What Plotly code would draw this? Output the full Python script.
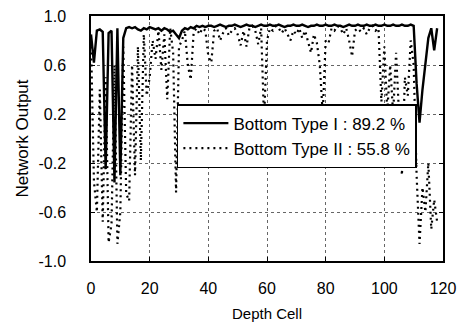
import plotly.graph_objects as go

depth_cell = list(range(0, 119))

type1_output = [
    0.85, 0.62, 0.88, 0.89, 0.87, -0.25, 0.86, 0.88, -0.36, 0.90,
    -0.30, 0.82, 0.90, 0.91, 0.90, 0.91, 0.89, 0.88, 0.90, 0.89,
    0.91, 0.90, 0.89, 0.90, 0.88, 0.90, 0.89, 0.87, 0.88, 0.85,
    0.82, 0.88, 0.90, 0.89, 0.91, 0.90, 0.92, 0.91, 0.92, 0.91,
    0.92, 0.92, 0.91, 0.92, 0.93, 0.92, 0.91, 0.92, 0.92, 0.93,
    0.92, 0.91, 0.92, 0.93, 0.92, 0.92, 0.91, 0.92, 0.93, 0.92,
    0.92, 0.93, 0.92, 0.92, 0.93, 0.92, 0.91, 0.92, 0.92, 0.93,
    0.92, 0.92, 0.93, 0.92, 0.91, 0.92, 0.92, 0.93, 0.92, 0.92,
    0.93, 0.92, 0.92, 0.93, 0.92, 0.92, 0.91, 0.92, 0.93, 0.92,
    0.92, 0.93, 0.92, 0.92, 0.93, 0.92, 0.92, 0.93, 0.92, 0.92,
    0.93, 0.92, 0.92, 0.93, 0.92, 0.92, 0.93, 0.92, 0.92, 0.93,
    0.92, 0.45, 0.13, 0.40, 0.62, 0.82, 0.90, 0.72, 0.90,
]

type2_output = [
    0.80, -0.35, -0.60, 0.40, -0.68, 0.50, -0.85, -0.70, 0.60, -0.86,
    -0.60, 0.75, -0.45, -0.51, 0.60, -0.30, 0.75, -0.18, 0.85, 0.35,
    0.50, 0.80, 0.65, 0.88, 0.56, 0.85, 0.32, 0.90, 0.70, -0.44,
    0.75, 0.80, 0.88, 0.60, 0.48, 0.87, 0.90, 0.85, 0.90, 0.88,
    0.67, 0.62, 0.88, 0.90, 0.80, 0.86, 0.90, 0.84, 0.88, 0.90,
    0.85, 0.76, 0.88, 0.75, 0.90, 0.92, 0.88, 0.77, 0.90, 0.15,
    0.80, 0.90, 0.88, 0.92, 0.90, 0.86, 0.90, 0.85, 0.80, 0.88,
    0.85, 0.90, 0.82, 0.88, 0.80, 0.70, 0.85, 0.78, 0.60, 0.20,
    0.80, 0.78, 0.90, 0.88, 0.92, 0.90, 0.85, 0.90, 0.80, 0.67,
    0.88, 0.90, 0.87, 0.90, 0.85, 0.90, 0.92, 0.88, 0.90, 0.30,
    0.75, 0.22, 0.60, 0.20, 0.70, 0.25, -0.30, 0.50, 0.35, 0.80,
    0.60, -0.30, -0.86, -0.40, -0.60, -0.20, -0.74, -0.50, -0.68,
]

series_names = ["Bottom Type I : 89.2 %", "Bottom Type II : 55.8 %"]

x_ticks = [0, 20, 40, 60, 80, 100, 120]
x_tick_labels = ["0", "20", "40", "60", "80", "100", "120"]
y_ticks = [-1.0, -0.6, -0.2, 0.2, 0.6, 1.0]
y_tick_labels = ["-1.0", "-0.6", "-0.2", "0.2", "0.6", "1.0"]

FONT = "Liberation Sans, Arial, sans-serif"

fig = go.Figure()
fig.add_trace(go.Scatter(
    x=depth_cell, y=type1_output, mode="lines", name=series_names[0],
    line=dict(color="black", width=2.4),
))
fig.add_trace(go.Scatter(
    x=depth_cell, y=type2_output, mode="lines", name=series_names[1],
    line=dict(color="black", width=2.2, dash="2px,4px"),
))

axis_common = dict(
    showline=True, linecolor="black", linewidth=1.5, mirror="ticks",
    ticks="inside", ticklen=4, tickcolor="black",
    showgrid=True, gridcolor="#666666", gridwidth=1, griddash="dot",
    zeroline=False, automargin=False,
    tickfont=dict(family=FONT, size=16, color="black"),
)

fig.update_xaxes(
    range=[0, 120], tickmode="array", tickvals=x_ticks, ticktext=x_tick_labels,
    ticklabelstandoff=12,
    title=dict(text="Depth Cell", font=dict(family=FONT, size=15, color="black"), standoff=13),
    **axis_common,
)
fig.update_yaxes(
    range=[-1.0, 1.0], tickmode="array", tickvals=y_ticks, ticktext=y_tick_labels,
    ticklabelstandoff=20,
    title=dict(text="Network Output", font=dict(family=FONT, size=17, color="black"), standoff=6),
    **axis_common,
)

fig.update_layout(
    width=461, height=325,
    margin=dict(l=91, r=18, t=16, b=64),
    paper_bgcolor="white", plot_bgcolor="white",
    font=dict(family=FONT, color="black"),
    showlegend=True,
    legend=dict(
        x=0.244, y=0.51, xanchor="left", yanchor="middle",
        bgcolor="white", bordercolor="black", borderwidth=1.5,
        font=dict(family=FONT, size=17, color="black"),
        itemwidth=45, tracegroupgap=0,
    ),
)

fig.write_html(
    "out.html",
    config={"displayModeBar": False},
    post_script="document.body.style.margin='0';document.body.style.overflow='hidden';",
)
